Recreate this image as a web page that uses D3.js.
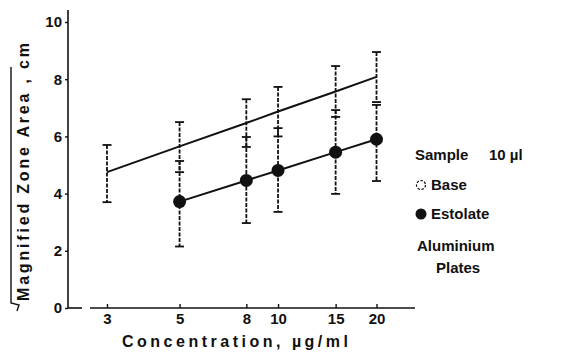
<!DOCTYPE html>
<html>
<head>
<meta charset="utf-8">
<script src="https://cdn.jsdelivr.net/npm/d3@7"></script>
<style>
  html, body { margin: 0; padding: 0; background: #fff; }
  svg { display: block; font-family: "Liberation Sans", Arial, sans-serif; font-weight: bold; }
</style>
</head>
<body>
<svg id="chart" width="575" height="352"></svg>
<script>
// Concentration values (µg/ml) and sqrt zone area readings (cm)
const concentrations = [3, 5, 8, 10, 15, 20];
const baseMean = [4.75, 5.65, 6.47, 6.87, 7.57, 8.08];
const baseLow  = [3.7, 4.75, 5.63, 6.0, 6.68, 7.2];
const baseHigh = [5.7, 6.5, 7.3, 7.73, 8.46, 8.95];

const estolateConc = [5, 8, 10, 15, 20];
const estolateMean = [3.72, 4.46, 4.81, 5.45, 5.9];
const estolateLow  = [2.15, 2.97, 3.36, 3.99, 4.44];
const estolateHigh = [5.14, 5.98, 6.29, 6.92, 7.1];

const xTicks = [3, 5, 8, 10, 15, 20];
const yTicks = [0, 2, 4, 6, 8, 10];

const INK = '#111';
const FONT = '"Liberation Sans", Arial, sans-serif';

const svg = d3.select('#chart');

const x = d3.scaleLog().domain([3, 20]).range([107, 376.5]);
const y = d3.scaleLinear().domain([0, 10]).range([308, 22]);

const base = concentrations.map((c, i) => ({ c, m: baseMean[i], lo: baseLow[i], hi: baseHigh[i] }));
const estolate = estolateConc.map((c, i) => ({ c, m: estolateMean[i], lo: estolateLow[i], hi: estolateHigh[i] }));

// Axis lines (x axis has a small break near the origin)
const axes = svg.append('g').attr('stroke', INK).attr('stroke-width', 1.6);
axes.append('line').attr('x1', 68).attr('y1', 10).attr('x2', 68).attr('y2', y(0));
axes.append('line').attr('x1', 68).attr('y1', y(0)).attr('x2', 82).attr('y2', y(0));
axes.append('line').attr('x1', 90).attr('y1', y(0)).attr('x2', 415).attr('y2', y(0));

// Y axis ticks
const yAxis = svg.append('g')
  .attr('transform', 'translate(68,0)')
  .call(d3.axisLeft(y).tickValues(yTicks).tickSize(3).tickPadding(3).tickFormat(d3.format('d')));
yAxis.select('.domain').remove();
yAxis.selectAll('line').attr('stroke', INK).attr('stroke-width', 1.4);
yAxis.selectAll('text').attr('font-size', 15).attr('font-weight', 'bold')
  .attr('font-family', FONT).attr('fill', INK);

// X axis ticks (pointing up)
const xAxis = svg.append('g')
  .attr('transform', `translate(0,${y(0)})`)
  .call(d3.axisBottom(x).tickValues(xTicks).tickSize(-4).tickPadding(5).tickFormat(d3.format('d')));
xAxis.select('.domain').remove();
xAxis.selectAll('line').attr('stroke', INK).attr('stroke-width', 1.4);
xAxis.selectAll('text').attr('font-size', 15).attr('font-weight', 'bold')
  .attr('font-family', FONT).attr('fill', INK);

// Error bars — dashed stems with solid caps
function errorBars(data) {
  const g = svg.append('g');
  g.selectAll('line.stem').data(data).join('line')
    .attr('class', 'stem')
    .attr('x1', d => x(d.c)).attr('x2', d => x(d.c))
    .attr('y1', d => y(d.hi)).attr('y2', d => y(d.lo))
    .attr('stroke', INK).attr('stroke-width', 1.8)
    .attr('stroke-dasharray', '4,1.5');
  const caps = data.flatMap(d => [{ c: d.c, v: d.hi }, { c: d.c, v: d.lo }]);
  g.selectAll('line.cap').data(caps).join('line')
    .attr('class', 'cap')
    .attr('x1', d => x(d.c) - 4.5).attr('x2', d => x(d.c) + 4.5)
    .attr('y1', d => y(d.v)).attr('y2', d => y(d.v))
    .attr('stroke', INK).attr('stroke-width', 1.8);
}
errorBars(base);
errorBars(estolate);

// Fitted lines
const line = d3.line().x(d => x(d.c)).y(d => y(d.m));
svg.append('path').datum(base).attr('d', line)
  .attr('fill', 'none').attr('stroke', INK).attr('stroke-width', 2);
svg.append('path').datum(estolate).attr('d', line)
  .attr('fill', 'none').attr('stroke', INK).attr('stroke-width', 2);

// Estolate markers
svg.append('g').selectAll('circle').data(estolate).join('circle')
  .attr('cx', d => x(d.c)).attr('cy', d => y(d.m)).attr('r', 6.5)
  .attr('fill', INK);

// Y axis title with radical sign
svg.append('text')
  .attr('transform', 'translate(29,172) rotate(-90)')
  .attr('text-anchor', 'middle')
  .attr('font-size', 16)
  .attr('textLength', 258)
  .attr('lengthAdjust', 'spacing')
  .attr('fill', INK)
  .text('Magnified Zone Area , cm');
svg.append('path')
  .attr('d', 'M11,67 V303 L19,305 L17,311')
  .attr('fill', 'none').attr('stroke', INK).attr('stroke-width', 1.4);

// X axis title
svg.append('text')
  .attr('x', 122).attr('y', 347)
  .attr('font-size', 16)
  .attr('textLength', 226)
  .attr('lengthAdjust', 'spacing')
  .attr('fill', INK)
  .text('Concentration, µg/ml');

// Legend
const legend = svg.append('g').attr('font-size', 15).attr('fill', INK);
legend.append('text').attr('x', 415).attr('y', 160).text('Sample');
legend.append('text').attr('x', 489).attr('y', 160).text('10 µl');
legend.append('circle').attr('cx', 421).attr('cy', 185).attr('r', 4.5)
  .attr('fill', 'none').attr('stroke', INK).attr('stroke-width', 1.2).attr('stroke-dasharray', '2.5,1.5');
legend.append('text').attr('x', 431).attr('y', 190).text('Base');
legend.append('circle').attr('cx', 421).attr('cy', 214).attr('r', 5.5).attr('fill', INK);
legend.append('text').attr('x', 431).attr('y', 219).text('Estolate');
legend.append('text').attr('x', 417).attr('y', 251).text('Aluminium');
legend.append('text').attr('x', 436).attr('y', 273).text('Plates');
</script>
</body>
</html>
